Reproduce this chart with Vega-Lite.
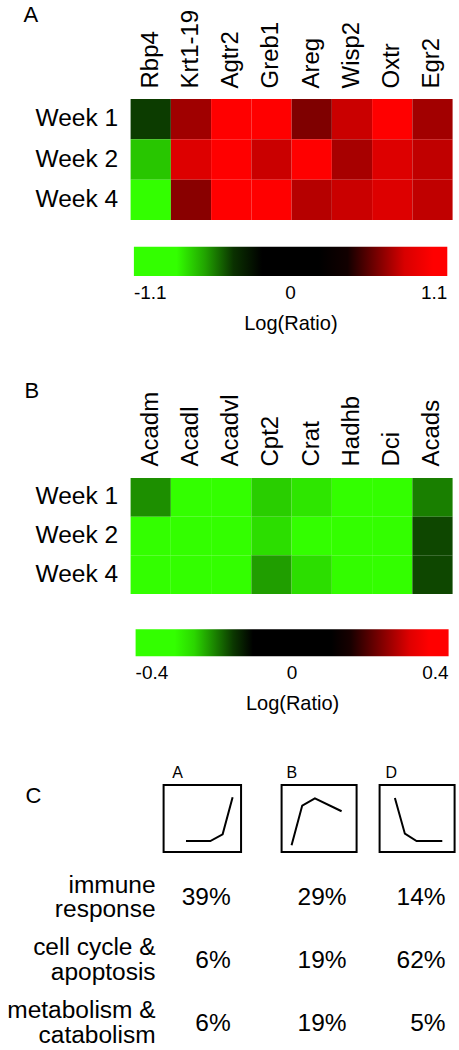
{
  "$schema": "https://vega.github.io/schema/vega-lite/v6.json",
  "padding": {"left": 6.6, "top": 4, "right": 0, "bottom": 0},
  "bounds": "flush",
  "spacing": 191,
  "config": {
    "font": "Liberation Sans",
    "view": {"stroke": null},
    "axis": {"domain": false, "ticks": false, "grid": false, "labelColor": "black", "labelFont": "Liberation Sans"},
    "legend": {"labelColor": "black", "titleColor": "black", "labelFont": "Liberation Sans", "titleFont": "Liberation Sans"},
    "title": {"font": "Liberation Sans", "fontWeight": "normal", "color": "black"},
    "text": {"font": "Liberation Sans", "color": "black"}
  },
  "datasets": {
    "heatA": [
      {"gene": "Rbp4", "week": "Week 1", "v": -0.42},
      {"gene": "Krt1-19", "week": "Week 1", "v": 0.686},
      {"gene": "Agtr2", "week": "Week 1", "v": 1.0},
      {"gene": "Greb1", "week": "Week 1", "v": 1.0},
      {"gene": "Areg", "week": "Week 1", "v": 0.62},
      {"gene": "Wisp2", "week": "Week 1", "v": 0.77},
      {"gene": "Oxtr", "week": "Week 1", "v": 0.95},
      {"gene": "Egr2", "week": "Week 1", "v": 0.69},
      {"gene": "Rbp4", "week": "Week 2", "v": -0.66},
      {"gene": "Krt1-19", "week": "Week 2", "v": 0.81},
      {"gene": "Agtr2", "week": "Week 2", "v": 1.0},
      {"gene": "Greb1", "week": "Week 2", "v": 0.77},
      {"gene": "Areg", "week": "Week 2", "v": 1.0},
      {"gene": "Wisp2", "week": "Week 2", "v": 0.70},
      {"gene": "Oxtr", "week": "Week 2", "v": 0.81},
      {"gene": "Egr2", "week": "Week 2", "v": 0.75},
      {"gene": "Rbp4", "week": "Week 4", "v": -0.9},
      {"gene": "Krt1-19", "week": "Week 4", "v": 0.64},
      {"gene": "Agtr2", "week": "Week 4", "v": 1.0},
      {"gene": "Greb1", "week": "Week 4", "v": 1.0},
      {"gene": "Areg", "week": "Week 4", "v": 0.73},
      {"gene": "Wisp2", "week": "Week 4", "v": 0.77},
      {"gene": "Oxtr", "week": "Week 4", "v": 0.81},
      {"gene": "Egr2", "week": "Week 4", "v": 0.75}
    ],
    "heatB": [
      {"gene": "Acadm", "week": "Week 1", "v": -0.205},
      {"gene": "Acadl", "week": "Week 1", "v": -0.30},
      {"gene": "Acadvl", "week": "Week 1", "v": -0.29},
      {"gene": "Cpt2", "week": "Week 1", "v": -0.245},
      {"gene": "Crat", "week": "Week 1", "v": -0.26},
      {"gene": "Hadhb", "week": "Week 1", "v": -0.30},
      {"gene": "Dci", "week": "Week 1", "v": -0.30},
      {"gene": "Acads", "week": "Week 1", "v": -0.195},
      {"gene": "Acadm", "week": "Week 2", "v": -0.30},
      {"gene": "Acadl", "week": "Week 2", "v": -0.30},
      {"gene": "Acadvl", "week": "Week 2", "v": -0.285},
      {"gene": "Cpt2", "week": "Week 2", "v": -0.255},
      {"gene": "Crat", "week": "Week 2", "v": -0.28},
      {"gene": "Hadhb", "week": "Week 2", "v": -0.29},
      {"gene": "Dci", "week": "Week 2", "v": -0.29},
      {"gene": "Acads", "week": "Week 2", "v": -0.16},
      {"gene": "Acadm", "week": "Week 4", "v": -0.30},
      {"gene": "Acadl", "week": "Week 4", "v": -0.30},
      {"gene": "Acadvl", "week": "Week 4", "v": -0.29},
      {"gene": "Cpt2", "week": "Week 4", "v": -0.215},
      {"gene": "Crat", "week": "Week 4", "v": -0.255},
      {"gene": "Hadhb", "week": "Week 4", "v": -0.275},
      {"gene": "Dci", "week": "Week 4", "v": -0.29},
      {"gene": "Acads", "week": "Week 4", "v": -0.16}
    ],
    "spark": [
      {"cluster": "A", "t": 0.289, "level": 0.163},
      {"cluster": "A", "t": 0.603, "level": 0.163},
      {"cluster": "A", "t": 0.762, "level": 0.263},
      {"cluster": "A", "t": 0.891, "level": 0.816},
      {"cluster": "B", "t": 0.133, "level": 0.099},
      {"cluster": "B", "t": 0.275, "level": 0.693},
      {"cluster": "B", "t": 0.444, "level": 0.801},
      {"cluster": "B", "t": 0.8, "level": 0.608},
      {"cluster": "D", "t": 0.204, "level": 0.807},
      {"cluster": "D", "t": 0.337, "level": 0.273},
      {"cluster": "D", "t": 0.493, "level": 0.163},
      {"cluster": "D", "t": 0.836, "level": 0.163}
    ],
    "pct": [
      {"cluster": "A", "category": "immune\nresponse", "pct": "39%"},
      {"cluster": "A", "category": "cell cycle &\napoptosis", "pct": "6%"},
      {"cluster": "A", "category": "metabolism &\ncatabolism", "pct": "6%"},
      {"cluster": "B", "category": "immune\nresponse", "pct": "29%"},
      {"cluster": "B", "category": "cell cycle &\napoptosis", "pct": "19%"},
      {"cluster": "B", "category": "metabolism &\ncatabolism", "pct": "19%"},
      {"cluster": "D", "category": "immune\nresponse", "pct": "14%"},
      {"cluster": "D", "category": "cell cycle &\napoptosis", "pct": "62%"},
      {"cluster": "D", "category": "metabolism &\ncatabolism", "pct": "5%"}
    ]
  },
  "resolve": {"scale": {"color": "independent"}},
  "vconcat": [
    {
      "width": 322,
      "height": 188,
      "title": {"text": "A", "anchor": "start", "frame": "group", "dx": -107, "offset": -18, "fontSize": 22},
      "data": {"name": "heatA"},
      "mark": {"type": "rect"},
      "encoding": {
        "x": {"field": "gene", "type": "nominal", "sort": ["Rbp4", "Krt1-19", "Agtr2", "Greb1", "Areg", "Wisp2", "Oxtr", "Egr2"],
              "scale": {"paddingInner": 0, "paddingOuter": 0},
              "axis": {"orient": "top", "labelAngle": -90, "labelAlign": "left", "labelBaseline": "middle", "labelFontSize": 24, "labelPadding": 11, "title": null}},
        "y": {"field": "week", "type": "nominal", "sort": ["Week 1", "Week 2", "Week 4"],
              "scale": {"paddingInner": 0, "paddingOuter": 0.8306, "align": 0},
              "axis": {"labelFontSize": 24.5, "labelPadding": 13, "title": null}},
        "color": {"field": "v", "type": "quantitative",
                  "scale": {"domain": [-1.1, -0.76, -0.315, 0.363, 0.878, 1.1], "range": ["#33ff00", "#33ff00", "#000000", "#000000", "#ff0000", "#ff0000"], "interpolate": "rgb", "clamp": true},
                  "legend": {"orient": "none", "legendX": 3.3, "legendY": 147.7, "direction": "horizontal", "gradientLength": 313.4, "gradientThickness": 29.3,
                             "values": [-1.1, 0, 1.1], "labelExpr": "datum.value < 0 ? '-' + format(-datum.value, '.1f') : (datum.value > 0 ? format(datum.value, '.1f') : '0')",
                             "title": "Log(Ratio)", "titleOrient": "bottom", "titleAnchor": "middle", "titleFontSize": 20, "titleFontWeight": "normal",
                             "labelFontSize": 19, "labelOffset": 8, "titlePadding": 11, "gradientStrokeWidth": 0, "padding": 0, "labelOverlap": false}}
      }
    },
    {
      "width": 322,
      "height": 116,
      "title": {"text": "B", "anchor": "start", "frame": "group", "dx": -106, "offset": -11.6, "fontSize": 22},
      "data": {"name": "heatB"},
      "mark": {"type": "rect"},
      "encoding": {
        "x": {"field": "gene", "type": "nominal", "sort": ["Acadm", "Acadl", "Acadvl", "Cpt2", "Crat", "Hadhb", "Dci", "Acads"],
              "scale": {"paddingInner": 0, "paddingOuter": 0},
              "axis": {"orient": "top", "labelAngle": -90, "labelAlign": "left", "labelBaseline": "middle", "labelFontSize": 24, "labelPadding": 12, "title": null}},
        "y": {"field": "week", "type": "nominal", "sort": ["Week 1", "Week 2", "Week 4"],
              "scale": {"paddingInner": 0, "paddingOuter": 0},
              "axis": {"labelFontSize": 24.5, "labelPadding": 13, "title": null}},
        "color": {"field": "v", "type": "quantitative",
                  "scale": {"domain": [-0.4, -0.276, -0.115, 0.132, 0.325, 0.4], "range": ["#33ff00", "#33ff00", "#000000", "#000000", "#ff0000", "#ff0000"], "interpolate": "rgb", "clamp": true},
                  "legend": {"orient": "none", "legendX": 5, "legendY": 151.3, "direction": "horizontal", "gradientLength": 313, "gradientThickness": 27,
                             "values": [-0.4, 0, 0.4], "labelExpr": "datum.value < 0 ? '-' + format(-datum.value, '.1f') : (datum.value > 0 ? format(datum.value, '.1f') : '0')",
                             "title": "Log(Ratio)", "titleOrient": "bottom", "titleAnchor": "middle", "titleFontSize": 20, "titleFontWeight": "normal",
                             "labelFontSize": 19, "labelOffset": 8, "titlePadding": 11, "gradientStrokeWidth": 0, "padding": 0, "labelOverlap": false}}
      }
    },
    {
      "bounds": "flush",
      "spacing": 8,
      "hconcat": [
        {
          "width": 25,
          "height": 239,
          "title": {"text": "C", "anchor": "start", "frame": "group", "dx": -105, "offset": -23, "fontSize": 22},
          "data": {"name": "pct"},
          "transform": [{"filter": "datum.cluster === 'A'"}],
          "mark": {"type": "text", "align": "right", "baseline": "middle", "fontSize": 24.5, "lineBreak": "\n", "lineHeight": 25, "dy": -12.5},
          "encoding": {
            "x": {"value": "width"},
            "y": {"field": "category", "type": "nominal", "sort": ["immune\nresponse", "cell cycle &\napoptosis", "metabolism &\ncatabolism"],
                  "scale": {"type": "point", "padding": 0.897, "align": 1}, "axis": null},
            "text": {"field": "category"}
          }
        },
        {
          "width": 110,
          "height": 239,
          "title": {"text": "A", "anchor": "start", "frame": "group", "dx": 8.7, "offset": 3, "fontSize": 16},
          "resolve": {"scale": {"y": "independent"}},
          "layer": [
            {
              "data": {"values": [{"frame": "box"}]},
              "mark": {"type": "rect", "fill": "transparent", "stroke": "black", "strokeWidth": 2},
              "encoding": {
                "x": {"datum": 0, "type": "quantitative", "scale": {"domain": [0, 1.42], "nice": false, "zero": false}, "axis": null},
                "x2": {"datum": 1},
                "y": {"datum": 0, "type": "quantitative", "scale": {"domain": [-2.567, 1], "nice": false, "zero": false}, "axis": null},
                "y2": {"datum": 1}
              }
            },
            {
              "data": {"name": "spark"},
              "transform": [{"filter": "datum.cluster === 'A'"}],
              "mark": {"type": "line", "color": "black", "strokeWidth": 2},
              "encoding": {
                "x": {"field": "t", "type": "quantitative", "scale": {"domain": [0, 1.42], "nice": false, "zero": false}, "axis": null},
                "y": {"field": "level", "type": "quantitative", "scale": {"domain": [-2.567, 1], "nice": false, "zero": false}, "axis": null}
              }
            },
            {
              "data": {"name": "pct"},
              "transform": [{"filter": "datum.cluster === 'A'"}],
              "mark": {"type": "text", "align": "right", "baseline": "middle", "fontSize": 24.5},
              "encoding": {
                "x": {"datum": 0.866, "type": "quantitative", "scale": {"domain": [0, 1.42], "nice": false, "zero": false}, "axis": null},
                "y": {"field": "category", "type": "nominal", "sort": ["immune\nresponse", "cell cycle &\napoptosis", "metabolism &\ncatabolism"],
                      "scale": {"type": "point", "padding": 0.897, "align": 1}, "axis": null},
                "text": {"field": "pct"}
              }
            }
          ]
        },
        {
          "width": 90,
          "height": 239,
          "title": {"text": "B", "anchor": "start", "frame": "group", "dx": 5, "offset": 3, "fontSize": 16},
          "resolve": {"scale": {"y": "independent"}},
          "layer": [
            {
              "data": {"values": [{"frame": "box"}]},
              "mark": {"type": "rect", "fill": "transparent", "stroke": "black", "strokeWidth": 2},
              "encoding": {
                "x": {"datum": 0, "type": "quantitative", "scale": {"domain": [0, 1.2], "nice": false, "zero": false}, "axis": null},
                "x2": {"datum": 1},
                "y": {"datum": 0, "type": "quantitative", "scale": {"domain": [-2.567, 1], "nice": false, "zero": false}, "axis": null},
                "y2": {"datum": 1}
              }
            },
            {
              "data": {"name": "spark"},
              "transform": [{"filter": "datum.cluster === 'B'"}],
              "mark": {"type": "line", "color": "black", "strokeWidth": 2},
              "encoding": {
                "x": {"field": "t", "type": "quantitative", "scale": {"domain": [0, 1.2], "nice": false, "zero": false}, "axis": null},
                "y": {"field": "level", "type": "quantitative", "scale": {"domain": [-2.567, 1], "nice": false, "zero": false}, "axis": null}
              }
            },
            {
              "data": {"name": "pct"},
              "transform": [{"filter": "datum.cluster === 'B'"}],
              "mark": {"type": "text", "align": "right", "baseline": "middle", "fontSize": 24.5},
              "encoding": {
                "x": {"datum": 0.866, "type": "quantitative", "scale": {"domain": [0, 1.2], "nice": false, "zero": false}, "axis": null},
                "y": {"field": "category", "type": "nominal", "sort": ["immune\nresponse", "cell cycle &\napoptosis", "metabolism &\ncatabolism"],
                      "scale": {"type": "point", "padding": 0.897, "align": 1}, "axis": null},
                "text": {"field": "pct"}
              }
            }
          ]
        },
        {
          "width": 75,
          "height": 239,
          "title": {"text": "D", "anchor": "start", "frame": "group", "dx": 6, "offset": 3, "fontSize": 16},
          "resolve": {"scale": {"y": "independent"}},
          "layer": [
            {
              "data": {"values": [{"frame": "box"}]},
              "mark": {"type": "rect", "fill": "transparent", "stroke": "black", "strokeWidth": 2},
              "encoding": {
                "x": {"datum": 0, "type": "quantitative", "scale": {"domain": [0, 1], "nice": false, "zero": false}, "axis": null},
                "x2": {"datum": 1},
                "y": {"datum": 0, "type": "quantitative", "scale": {"domain": [-2.567, 1], "nice": false, "zero": false}, "axis": null},
                "y2": {"datum": 1}
              }
            },
            {
              "data": {"name": "spark"},
              "transform": [{"filter": "datum.cluster === 'D'"}],
              "mark": {"type": "line", "color": "black", "strokeWidth": 2},
              "encoding": {
                "x": {"field": "t", "type": "quantitative", "scale": {"domain": [0, 1], "nice": false, "zero": false}, "axis": null},
                "y": {"field": "level", "type": "quantitative", "scale": {"domain": [-2.567, 1], "nice": false, "zero": false}, "axis": null}
              }
            },
            {
              "data": {"name": "pct"},
              "transform": [{"filter": "datum.cluster === 'D'"}],
              "mark": {"type": "text", "align": "right", "baseline": "middle", "fontSize": 24.5},
              "encoding": {
                "x": {"datum": 0.88, "type": "quantitative", "scale": {"domain": [0, 1], "nice": false, "zero": false}, "axis": null},
                "y": {"field": "category", "type": "nominal", "sort": ["immune\nresponse", "cell cycle &\napoptosis", "metabolism &\ncatabolism"],
                      "scale": {"type": "point", "padding": 0.897, "align": 1}, "axis": null},
                "text": {"field": "pct"}
              }
            }
          ]
        }
      ]
    }
  ]
}
